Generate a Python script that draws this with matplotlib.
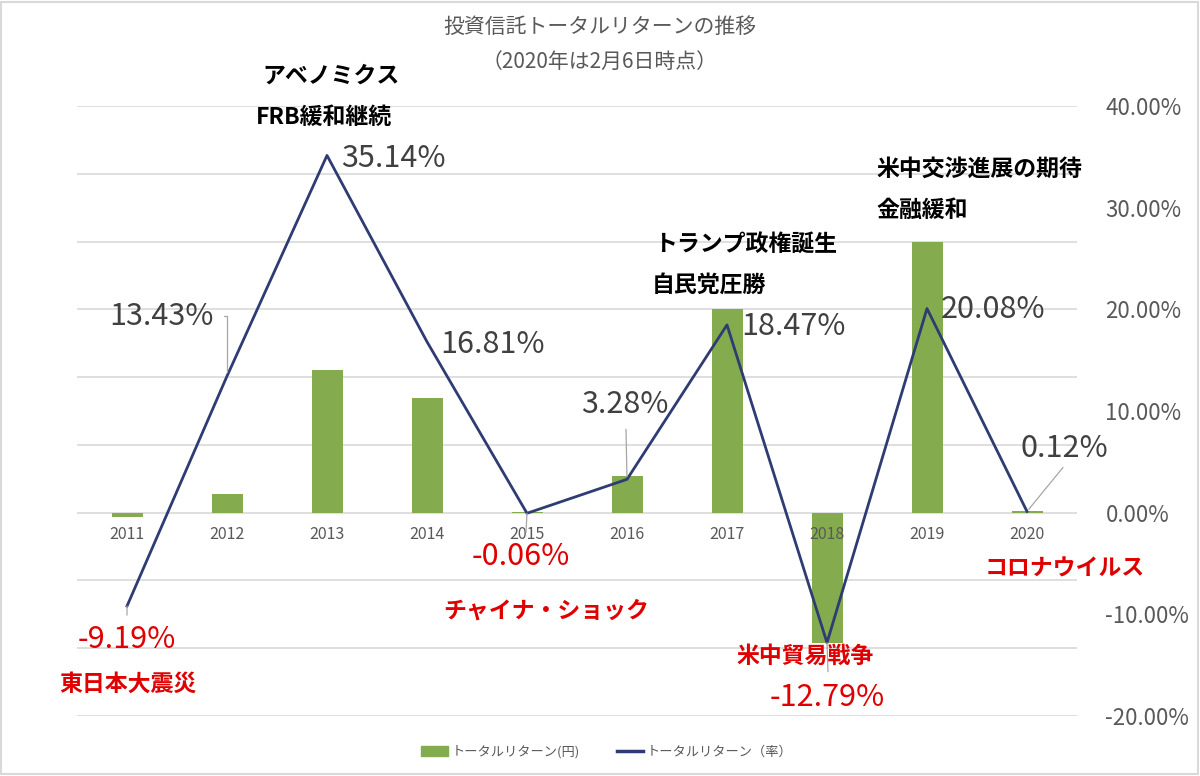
import matplotlib
matplotlib.use('Agg')
import matplotlib.pyplot as plt
from matplotlib.patches import Rectangle, Patch
from matplotlib.lines import Line2D
from matplotlib.ticker import FuncFormatter

plt.rcParams['font.family'] = ['Noto Sans CJK JP', 'DejaVu Sans']

# ---- data ----
years = ['2011', '2012', '2013', '2014', '2015', '2016', '2017', '2018', '2019', '2020']
amount = [-70, 270, 2100, 1690, 10, 540, 3010, -1930, 4000, 30]          # トータルリターン(円) (hidden axis)
rate = [-9.19, 13.43, 35.14, 16.81, -0.06, 3.28, 18.47, -12.79, 20.08, 0.12]  # トータルリターン（率） %
amount_ticks = [-3000, -2000, -1000, 0, 1000, 2000, 3000, 4000, 5000, 6000]
rate_ticks = [-0.2, -0.1, 0.0, 0.1, 0.2, 0.3, 0.4]

title = '投資信託トータルリターンの推移'
subtitle = '（2020年は2月6日時点）'
legend_labels = ['トータルリターン(円)', 'トータルリターン（率）']

# events: (index, text, colour, dx, dy, ha)
events = [
    (2, 'アベノミクス', 'black', 4, 79, 'center'),
    (2, 'FRB緩和継続', 'black', -3, 38, 'center'),
    (6, 'トランプ政権誕生', 'black', -73, 80, 'left'),
    (6, '自民党圧勝', 'black', -75, 40, 'left'),
    (8, '米中交渉進展の期待', 'black', -51, 139, 'left'),
    (8, '金融緩和', 'black', -51, 98, 'left'),
    (0, '東日本大震災', '#E00000', 1, -78, 'center'),
    (4, 'チャイナ・ショック', '#E00000', 19, -98, 'center'),
    (7, '米中貿易戦争', '#E00000', -22, -14, 'center'),
    (9, 'コロナウイルス', '#E00000', 38, -58, 'center'),
]

# data label offsets (pixels) and colours
label_offsets = [(0, -33), (-66, 60), (66, -3), (66, -3), (-6, -43),
                 (-2, 75), (66, -2), (0, -55), (66, -1), (37, 63)]
label_colors = ['#E00000', '#404040', '#404040', '#404040', '#E00000',
                '#404040', '#404040', '#E00000', '#404040', '#404040']

BAR_COLOR = '#84AC4E'
LINE_COLOR = '#2F3B73'
GRAY = '#595959'

fig = plt.figure(figsize=(12, 7.76), dpi=100)
ax = fig.add_axes([77 / 1200, 1 - 716 / 776, 1000 / 1200, 610 / 776])
x = list(range(len(years)))
ax.bar(x, amount, width=0.31, color=BAR_COLOR, zorder=2)
ax.set_xlim(-0.5, len(years) - 0.5)
ax.set_ylim(amount_ticks[0], amount_ticks[-1])
ax.set_yticks(amount_ticks)
ax.yaxis.grid(True, color='#d9d9d9', lw=1.2)
ax.set_axisbelow(True)
for s in ax.spines.values():
    s.set_visible(False)

for i, y in enumerate(years):
    ax.annotate(y, (i, 0), xytext=(0, -22), textcoords='offset pixels',
                ha='center', va='center', fontsize=11.5, color=GRAY)

ax2 = ax.twinx()
ax.tick_params(left=False, labelleft=False, bottom=False, labelbottom=False,
               right=False, labelright=False)
rate_frac = [r / 100 for r in rate]
ax2.plot(x, rate_frac, color=LINE_COLOR, lw=2.0, zorder=3)
ax2.set_ylim(rate_ticks[0], rate_ticks[-1])
ax2.set_yticks(rate_ticks)
ax2.yaxis.set_major_formatter(FuncFormatter(lambda v, p: f'{v * 100:.2f}%'))
ax2.tick_params(left=False, labelleft=False, right=False, labelright=True,
                bottom=False, labelbottom=False, labelsize=16, labelcolor=GRAY, pad=17)
for s in ax2.spines.values():
    s.set_visible(False)

# data labels
for i, (r, (dx, dy), c) in enumerate(zip(rate, label_offsets, label_colors)):
    txt = f'{r:.2f}%'
    ax2.annotate(txt, (i, r / 100), xytext=(dx, dy), textcoords='offset pixels',
                 ha='center', va='center', fontsize=22, color=c, zorder=5)

leader = dict(arrowstyle='-', color='#a6a6a6', lw=0.9)
# 2012 elbow leader
ax2.annotate('', (1, rate[1] / 100), xytext=(-3, 60), textcoords='offset pixels',
             arrowprops=dict(leader, connectionstyle='angle,angleA=0,angleB=90,rad=0',
                             shrinkA=0, shrinkB=3))
# 2016
ax2.annotate('', (5, rate[5] / 100), xytext=(-1, 50), textcoords='offset pixels',
             arrowprops=dict(leader, shrinkA=0, shrinkB=2))
# 2020
ax2.annotate('', (9, rate[9] / 100), xytext=(36, 44), textcoords='offset pixels',
             arrowprops=dict(leader, shrinkA=0, shrinkB=2))
# 2011
ax2.annotate('', (0, rate[0] / 100), xytext=(0, -9), textcoords='offset pixels',
             arrowprops=dict(leader, shrinkA=0, shrinkB=0))
# 2015
ax2.annotate('', (4, rate[4] / 100), xytext=(-1, -19), textcoords='offset pixels',
             arrowprops=dict(leader, shrinkA=0, shrinkB=0))
# 2018
ax2.annotate('', (7, rate[7] / 100), xytext=(1, -29), textcoords='offset pixels',
             arrowprops=dict(leader, shrinkA=0, shrinkB=0))

# event annotations
for idx, txt, c, dx, dy, ha in events:
    ax2.annotate(txt, (idx, rate[idx] / 100), xytext=(dx, dy), textcoords='offset pixels',
                 ha=ha, va='center', fontsize=16.5, fontweight='bold', color=c, zorder=6,
                 annotation_clip=False)

fig.text(0.5, 1 - 27 / 776, title, ha='center', va='center', fontsize=15, color=GRAY)
fig.text(0.5, 1 - 62 / 776, subtitle, ha='center', va='center', fontsize=15, color=GRAY)

handles = [Patch(color=BAR_COLOR), Line2D([0], [0], color=LINE_COLOR, lw=2.5)]
fig.legend(handles, legend_labels, loc='center', bbox_to_anchor=(607 / 1200, 1 - 752 / 776),
           ncol=2, frameon=False, fontsize=9.5, labelcolor=GRAY, handlelength=2.0,
           columnspacing=2.8, handletextpad=0.3)

fig.patches.append(Rectangle((0.001, 0.002), 0.997, 0.996, transform=fig.transFigure,
                             fill=False, edgecolor='#d9d9d9', lw=1.5))

fig.savefig('out.png', dpi=100)
